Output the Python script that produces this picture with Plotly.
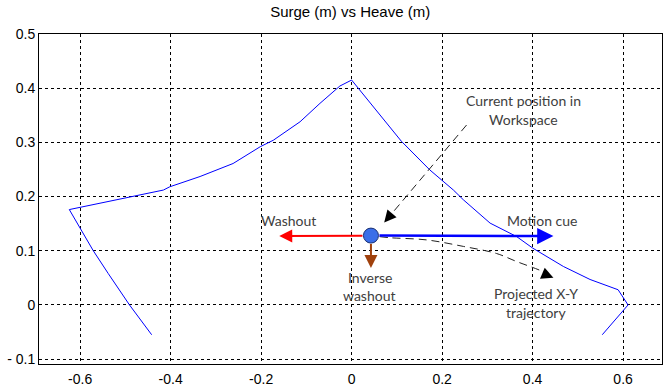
import plotly.graph_objects as go

# Trajectory (surge x, heave y)
traj_x = [-0.442, -0.491, -0.538, -0.571, -0.624, -0.416, -0.402, -0.335, -0.262, -0.202,
          -0.173, -0.114, -0.070, -0.026, 0.000, 0.0625, 0.110, 0.173, 0.198, 0.225,
          0.247, 0.306, 0.365, 0.400, 0.468, 0.527, 0.589, 0.611, 0.554]
traj_y = [-0.055, 0.000, 0.058, 0.100, 0.176, 0.212, 0.218, 0.237, 0.261, 0.292,
          0.304, 0.338, 0.372, 0.404, 0.415, 0.351, 0.302, 0.249, 0.231, 0.212,
          0.194, 0.151, 0.126, 0.105, 0.071, 0.047, 0.028, 0.000, -0.055]

# Current position
pos_x = [0.0427]
pos_y = [0.128]

# Arrow tips
washout_tip = (-0.160, 0.127)
motion_tip = (0.446, 0.127)
inverse_tip = (0.0427, 0.068)

# Dashed pointer to current position
pointer_x = [0.254, 0.072]
pointer_y = [0.332, 0.152]

# Projected trajectory (dashed curve)
proj_x = [0.062, 0.085, 0.166, 0.247, 0.320, 0.365, 0.424, 0.446]
proj_y = [0.126, 0.124, 0.120, 0.108, 0.095, 0.080, 0.061, 0.050]

x_ticks = [-0.6, -0.4, -0.2, 0, 0.2, 0.4, 0.6]
x_labels = ["-0.6", "-0.4", "-0.2", "0", "0.2", "0.4", "0.6"]
y_ticks = [-0.1, 0, 0.1, 0.2, 0.3, 0.4, 0.5]
y_labels = ["- 0.1", "0", "0.1", "0.2", "0.3", "0.4", "0.5"]

labels = [
    ("Current position in", 0.379, 0.378),
    ("Workspace", 0.379, 0.343),
    ("Washout", -0.140, 0.155),
    ("Motion cue", 0.421, 0.155),
    ("Inverse", 0.040, 0.051),
    ("washout", 0.040, 0.0166),
    ("Projected X-Y", 0.408, 0.0215),
    ("trajectory", 0.408, -0.014),
]

fig = go.Figure()
fig.add_trace(go.Scatter(x=traj_x, y=traj_y, mode="lines",
                         line=dict(color="#0000ff", width=1), hoverinfo="skip"))
fig.add_trace(go.Scatter(x=pointer_x, y=pointer_y, mode="lines",
                         line=dict(color="#222222", width=1, dash="8px,5px"), hoverinfo="skip"))
fig.add_trace(go.Scatter(x=proj_x, y=proj_y, mode="lines", line_shape="spline",
                         line=dict(color="#222222", width=1, dash="8px,5px"), hoverinfo="skip"))

anns = []
# solid arrows from current position
for tip, col, w in [(washout_tip, "#ff0000", 2), (motion_tip, "#0000ff", 2.5), (inverse_tip, "#a0410d", 2)]:
    anns.append(dict(x=tip[0], y=tip[1], ax=pos_x[0], ay=pos_y[0], axref="x", ayref="y",
                     xref="x", yref="y", showarrow=True, arrowhead=2, arrowsize=1.3,
                     arrowwidth=w, arrowcolor=col, startstandoff=7, text=""))
# arrowheads for dashed arrows
anns.append(dict(x=pointer_x[-1], y=pointer_y[-1], ax=6.5, ay=-7.6, xref="x", yref="y",
                 showarrow=True, arrowhead=2, arrowsize=2.4, arrowwidth=1, arrowcolor="#000000", text=""))
anns.append(dict(x=proj_x[-1], y=proj_y[-1], ax=-9.2, ay=-3.9, xref="x", yref="y",
                 showarrow=True, arrowhead=2, arrowsize=2.4, arrowwidth=1, arrowcolor="#000000", text=""))
for t, x, y in labels:
    anns.append(dict(x=x, y=y, xref="x", yref="y", text=t, showarrow=False,
                     font=dict(family="Lato", size=14, color="#404040")))

fig.add_trace(go.Scatter(x=pos_x, y=pos_y, mode="markers",
                         marker=dict(size=15, color="#3b6ee8", line=dict(color="#1a2f70", width=1)),
                         hoverinfo="skip"))

fig.update_layout(
    width=667, height=385,
    margin=dict(l=39, r=5, t=34, b=21, autoexpand=False),
    paper_bgcolor="white", plot_bgcolor="white",
    showlegend=False,
    title=dict(text="Surge (m) vs Heave (m)", x=0.525, xanchor="center", y=1 - 12 / 385, yanchor="middle",
               font=dict(family="Liberation Sans", size=15, color="#000000")),
    annotations=anns,
    font=dict(family="Liberation Sans", size=14, color="#000000"),
)
fig.update_xaxes(range=[-0.691, 0.686], tickvals=x_ticks, ticktext=x_labels,
                 showgrid=True, gridcolor="#000000", gridwidth=1, griddash="3px,3px",
                 showline=True, linecolor="#000000", linewidth=1, mirror=True,
                 zeroline=False, ticks="", ticklabelstandoff=2, automargin=False)
fig.update_yaxes(range=[-0.109, 0.5], tickvals=y_ticks, ticktext=y_labels,
                 showgrid=True, gridcolor="#000000", gridwidth=1, griddash="3px,3px",
                 showline=True, linecolor="#000000", linewidth=1, mirror=True,
                 zeroline=False, ticks="", automargin=False)

fig.write_html("out.html", config={"displayModeBar": False},
               post_script="document.body.style.margin='0';document.body.style.overflow='hidden';")
